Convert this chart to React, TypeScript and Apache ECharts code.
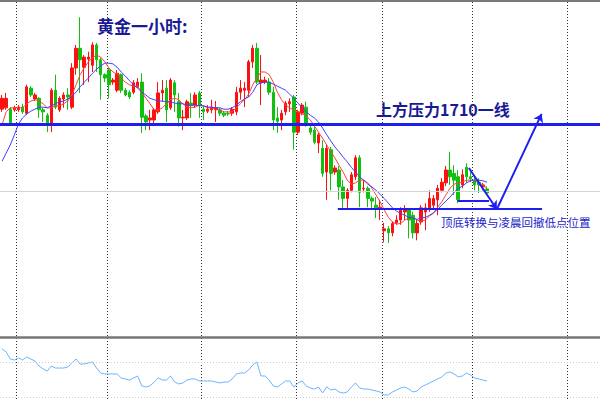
import React, { useEffect, useRef } from 'react';
import * as echarts from 'echarts';

// Hourly gold candles (price levels)
const opens = [1712.2,1712.4,1712.2,1712.1,1712.1,1712.5,1711.6,1715.3,1713.7,1713.8,1712.1,1711.3,1710.1,1715.0,1712.1,1713.7,1714.3,1712.5,1718.3,1721.2,1718.4,1719.6,1718.7,1721.7,1719.5,1717.3,1718.0,1716.2,1715.0,1717.3,1715.0,1714.7,1714.7,1715.5,1716.2,1711.2,1710.6,1710.6,1711.8,1714.6,1715.3,1712.4,1716.1,1713.3,1710.9,1710.9,1713.1,1712.8,1714.6,1712.2,1711.9,1712.1,1712.1,1712.1,1711.6,1711.6,1711.6,1711.8,1714.7,1715.0,1715.0,1719.2,1721.2,1716.1,1716.2,1716.2,1714.7,1710.9,1710.6,1711.8,1713.0,1714.0,1708.8,1711.6,1712.5,1709.4,1709.1,1707.2,1706.4,1702.9,1706.2,1702.9,1703.2,1700.7,1699.0,1700.2,1702.2,1705.0,1700.4,1700.5,1699.0,1698.0,1697.6,1694.2,1694.5,1693.9,1695.4,1695.8,1697.0,1697.4,1696.5,1693.9,1695.5,1697.0,1697.6,1698.0,1698.8,1700.2,1701.3,1703.2,1702.7,1702.2,1701.0,1703.6,1702.2,1701.7,1701.4,1700.7,1700.4];
const closes = [1713.8,1713.8,1710.1,1712.4,1712.5,1711.8,1715.5,1714.3,1714.3,1712.1,1711.8,1710.1,1715.0,1712.5,1713.8,1714.3,1714.0,1718.3,1721.2,1719.5,1719.9,1719.9,1721.7,1719.5,1717.3,1716.8,1715.8,1716.5,1717.5,1715.0,1714.3,1714.0,1716.1,1716.2,1711.0,1710.3,1710.9,1712.1,1714.6,1715.0,1712.1,1716.5,1714.3,1710.9,1711.0,1713.3,1712.7,1714.3,1712.8,1711.8,1712.2,1712.5,1712.4,1711.6,1711.3,1711.5,1712.2,1714.7,1715.3,1715.3,1719.2,1721.2,1716.2,1716.5,1716.5,1714.7,1710.6,1710.4,1711.6,1713.1,1713.3,1708.8,1711.8,1712.8,1710.1,1708.8,1707.3,1708.4,1702.7,1706.4,1702.7,1703.5,1700.7,1699.0,1700.2,1702.5,1705.0,1699.9,1700.5,1699.0,1698.6,1697.6,1697.7,1694.5,1693.9,1695.3,1695.8,1697.3,1697.4,1695.8,1693.9,1695.3,1697.6,1697.6,1699.0,1699.0,1700.5,1701.4,1703.2,1702.2,1701.7,1698.8,1702.5,1702.2,1701.9,1701.0,1701.0,1701.0,1699.8];
const lows = [1711.8,1712.1,1709.9,1711.8,1711.8,1711.5,1711.3,1714.0,1713.4,1710.9,1710.3,1708.8,1708.8,1712.2,1711.8,1712.4,1712.1,1712.2,1717.3,1714.6,1715.8,1716.2,1717.7,1717.7,1713.6,1716.2,1713.8,1715.8,1714.7,1714.6,1714.1,1713.7,1714.4,1715.3,1708.7,1709.1,1709.1,1709.9,1711.5,1713.3,1710.3,1712.1,1711.8,1709.6,1709.1,1710.6,1710.9,1712.4,1710.9,1710.6,1711.6,1711.6,1710.3,1711.2,1711.0,1711.2,1711.2,1711.3,1713.6,1712.5,1714.0,1718.3,1715.9,1712.8,1715.9,1714.3,1709.1,1708.7,1709.1,1711.3,1711.8,1706.2,1708.4,1711.3,1709.6,1708.4,1707.0,1705.7,1702.2,1698.8,1700.2,1702.5,1698.8,1697.6,1697.6,1699.9,1701.7,1697.7,1699.9,1697.7,1697.4,1696.1,1695.8,1692.5,1692.4,1693.4,1695.1,1695.1,1695.8,1693.1,1693.1,1692.8,1695.1,1694.3,1697.0,1697.3,1696.5,1699.9,1700.8,1701.0,1699.5,1698.3,1700.5,1701.3,1701.4,1700.2,1699.8,1700.2,1699.5];
const highs = [1714.3,1714.6,1712.5,1712.7,1712.8,1713.0,1715.8,1715.6,1714.6,1714.0,1712.4,1711.6,1715.3,1717.3,1714.1,1714.7,1715.3,1719.0,1721.7,1725.8,1720.2,1720.7,1722.1,1722.0,1719.8,1717.5,1718.3,1716.8,1718.0,1717.5,1715.3,1715.0,1716.5,1716.8,1717.5,1711.5,1712.1,1712.4,1716.2,1716.5,1716.5,1716.8,1716.5,1714.6,1712.1,1713.6,1714.6,1714.7,1714.9,1712.7,1712.8,1713.6,1713.4,1712.4,1711.9,1711.9,1712.5,1715.5,1716.5,1716.2,1719.5,1721.7,1722.0,1720.2,1717.0,1716.8,1715.5,1712.5,1712.1,1713.4,1713.8,1714.3,1712.1,1713.1,1713.3,1710.0,1709.6,1708.7,1707.6,1706.9,1706.6,1703.9,1703.8,1701.7,1700.5,1702.9,1705.4,1705.4,1701.7,1700.8,1699.3,1699.2,1698.8,1695.4,1694.9,1695.6,1696.5,1697.7,1698.0,1697.6,1697.0,1695.8,1698.0,1698.3,1700.2,1699.5,1701.0,1702.0,1703.8,1705.9,1703.9,1703.2,1703.3,1704.2,1702.9,1702.2,1702.0,1701.3,1700.8];

// Moving averages as drawn on the chart
const maFast = [1709.9,1711.8,1712.4,1712.4,1712.4,1712.4,1713.0,1713.4,1713.6,1713.4,1713.0,1712.4,1712.4,1712.7,1712.7,1713.0,1713.4,1714.3,1715.8,1717.3,1718.3,1719.2,1719.8,1720.2,1719.9,1719.2,1718.3,1717.7,1717.3,1716.8,1716.2,1715.8,1715.6,1715.6,1714.7,1713.8,1713.0,1712.1,1712.1,1712.4,1713.0,1713.6,1713.8,1713.6,1713.0,1712.5,1712.4,1712.5,1712.8,1712.7,1712.4,1712.4,1712.2,1712.1,1711.8,1711.8,1711.8,1712.4,1713.0,1713.6,1714.4,1715.8,1716.8,1717.7,1717.7,1717.3,1716.2,1714.7,1713.6,1712.8,1712.4,1712.1,1711.8,1711.5,1711.2,1710.6,1709.7,1708.8,1707.9,1706.9,1705.9,1705.0,1703.9,1702.9,1701.7,1701.1,1701.3,1701.7,1701.7,1701.3,1700.5,1699.5,1698.5,1697.3,1696.2,1695.5,1695.2,1695.3,1695.8,1696.1,1696.2,1695.8,1695.6,1695.8,1696.4,1696.8,1697.7,1698.5,1699.5,1700.5,1701.1,1701.3,1701.4,1701.7,1701.7,1701.6,1701.3,1701.0,1700.5];
const maSlow = [1704.5,1705.7,1706.9,1708.4,1710.0,1710.9,1711.5,1711.9,1712.2,1712.5,1712.5,1712.4,1712.7,1713.0,1713.3,1713.4,1713.7,1714.1,1714.7,1715.5,1716.2,1716.8,1717.5,1718.1,1718.6,1719.0,1719.0,1718.9,1718.4,1717.7,1717.1,1716.4,1715.8,1715.3,1714.7,1714.3,1713.8,1713.6,1713.4,1713.4,1713.3,1713.3,1713.1,1713.0,1713.0,1712.8,1712.8,1712.8,1712.7,1712.7,1712.5,1712.5,1712.4,1712.4,1712.2,1712.2,1712.4,1712.8,1713.3,1713.7,1714.0,1714.7,1715.8,1716.1,1716.2,1716.2,1715.9,1715.6,1715.3,1715.0,1714.4,1713.8,1713.1,1712.4,1711.8,1711.3,1710.9,1710.3,1709.4,1708.4,1707.5,1706.6,1705.9,1705.1,1704.4,1703.6,1702.9,1702.2,1701.7,1701.1,1700.7,1700.2,1699.6,1699.0,1698.3,1697.6,1697.1,1696.8,1696.5,1696.2,1696.1,1695.9,1696.1,1696.2,1696.5,1696.9,1697.4,1698.0,1698.6,1699.2,1699.9,1700.5,1700.8,1701.3,1701.6,1701.7,1701.7,1701.6,1701.4];

// Lower oscillator
const oscillator = [84.9,81.4,73.4,72.3,74.6,72.3,75.7,73.4,71.1,65.4,62.0,59.7,65.4,63.1,63.1,63.1,64.3,68.9,73.4,67.7,67.7,68.9,70.0,63.1,57.4,56.3,56.3,56.3,56.3,51.7,50.6,49.4,51.7,54.0,42.6,41.4,42.6,47.1,51.7,49.4,49.4,54.0,47.1,44.9,46.0,49.4,50.6,50.6,48.3,48.3,48.3,48.3,47.1,46.0,47.1,47.1,50.6,56.3,57.4,57.4,60.9,66.6,70.0,54.0,54.0,49.4,42.6,41.4,44.9,48.3,48.3,41.4,46.0,48.3,42.6,40.3,39.1,41.4,34.6,41.4,38.0,39.1,35.7,34.6,35.7,41.4,46.0,40.3,39.1,39.1,38.0,36.9,35.7,32.3,32.3,35.7,38.0,40.3,41.4,39.1,35.7,36.9,41.4,43.7,46.0,48.3,50.6,52.9,57.4,58.6,56.3,52.9,54.0,57.4,55.1,51.7,50.6,49.4,48.3];
const oscLevels = [70, 30];

// Price levels
const resistance = 1710;
const gridLevel = 1700;

// Session separators (category boundary indices)
const sessionBreaks = [4, 26, 49, 72, 93, 115, 138];
const slotCount = 146;
const categories = Array.from({ length: slotCount }, (_, i) => String(i + 1));

// Hand-drawn annotation lines, in [slot, price]
const supportLine = [[82.2, 1697.4], [131.9, 1697.4]];
const shortLine = [[111.3, 1698.6], [119.0, 1698.6]];
const arrowDown = [[114.1, 1703.5], [120.9, 1697.4]];
const arrowUp = [[120.9, 1697.4], [131.8, 1711.5]];

const candleData = opens.map((o, i) => [o, closes[i], lows[i], highs[i]]);

const BLUE = '#1e1ef0';
const RED = '#ff1010';
const GREEN = '#10c010';

export default function App() {
  const ref = useRef<HTMLDivElement>(null);
  useEffect(() => {
    const chart = echarts.init(ref.current!, null, { renderer: 'svg' });
    const splitLine = {
      show: true,
      interval: (index: number) => sessionBreaks.includes(index),
      lineStyle: { color: '#333', type: [1, 2], width: 1 },
    };
    chart.setOption({
      animation: false,
      backgroundColor: '#ffffff',
      grid: [
        { left: 0, right: 0, top: 2, height: 335 },
        { left: 0, right: 0, top: 338, height: 61 },
      ],
      xAxis: [
        {
          type: 'category', gridIndex: 0, data: categories, boundaryGap: true,
          axisLabel: { show: false }, axisTick: { show: false },
          axisLine: { show: true, onZero: false, lineStyle: { color: '#777', width: 2.5 } },
          splitLine,
        },
        {
          type: 'category', gridIndex: 1, data: categories, boundaryGap: true,
          axisLabel: { show: false }, axisTick: { show: false },
          axisLine: { show: false },
          splitLine,
        },
        {
          type: 'value', gridIndex: 0, min: 0, max: slotCount, show: false, position: 'top',
          splitLine: { show: false },
        },
      ],
      yAxis: [
        {
          type: 'value', gridIndex: 0, min: 1678.5, max: 1728.05, scale: true,
          axisLabel: { show: false }, axisTick: { show: false }, axisLine: { show: false },
          splitLine: { show: false },
        },
        {
          type: 'value', gridIndex: 1, min: 27.7, max: 97.4, scale: true,
          axisLabel: { show: false }, axisTick: { show: false }, axisLine: { show: false },
          splitLine: { show: false },
        },
      ],
      series: [
        {
          type: 'candlestick', xAxisIndex: 0, yAxisIndex: 0, data: candleData,
          barWidth: 3,
          itemStyle: { color: RED, color0: GREEN, borderColor: RED, borderColor0: GREEN, borderWidth: 1 },
          markLine: {
            silent: true, symbol: ['none', 'none'], label: { show: false },
            data: [
              { yAxis: gridLevel, lineStyle: { color: '#d4d4d4', width: 1, type: 'solid' } },
              { yAxis: resistance, lineStyle: { color: BLUE, width: 3, type: 'solid' } },
            ],
          },
        },
        {
          type: 'line', xAxisIndex: 0, yAxisIndex: 0, data: maFast, showSymbol: false,
          lineStyle: { color: '#ff4040', width: 1 }, z: 3,
        },
        {
          type: 'line', xAxisIndex: 0, yAxisIndex: 0, data: maSlow, showSymbol: false,
          lineStyle: { color: '#4040ff', width: 1 }, z: 3,
        },
        {
          type: 'line', xAxisIndex: 1, yAxisIndex: 1, data: oscillator, showSymbol: false,
          lineStyle: { color: '#6cb4ff', width: 1 },
          markLine: {
            silent: true, symbol: ['none', 'none'], label: { show: false },
            data: oscLevels.map((v) => ({ yAxis: v, lineStyle: { color: '#cccccc', width: 1, type: [1, 2] } })),
          },
        },
        {
          type: 'lines', coordinateSystem: 'cartesian2d', xAxisIndex: 2, yAxisIndex: 0,
          symbol: ['none', 'none'], z: 6,
          lineStyle: { color: BLUE, width: 2, opacity: 1 },
          data: [{ coords: supportLine }, { coords: shortLine }],
        },
        {
          type: 'lines', coordinateSystem: 'cartesian2d', xAxisIndex: 2, yAxisIndex: 0,
          symbol: ['none', 'arrow'], symbolSize: 8, z: 6,
          lineStyle: { color: BLUE, width: 2, opacity: 1 },
          data: [{ coords: arrowDown }, { coords: arrowUp }],
        },
      ],
      graphic: [
        { type: 'rect', shape: { x: 0, y: 0, width: 600, height: 2 }, style: { fill: '#7a7a7a' }, z: 10 },
        {
          type: 'text', z: 10,
          style: {
            text: '黄金一小时:', x: 97, y: 25, font: 'bold 17px "Noto Sans CJK SC"',
            fill: '#1a1a96', verticalAlign: 'middle', textVerticalAlign: 'middle',
          },
        },
        {
          type: 'text', z: 10,
          style: {
            text: '上方压力1710一线', x: 376, y: 109, font: 'bold 16px "Noto Sans CJK SC"',
            fill: '#1a1a96', verticalAlign: 'middle', textVerticalAlign: 'middle',
          },
        },
        {
          type: 'text', z: 10,
          style: {
            text: '顶底转换与凌晨回撤低点位置', x: 441, y: 222, font: '11.5px "Noto Sans CJK SC"',
            fill: '#2424c8', verticalAlign: 'middle', textVerticalAlign: 'middle',
          },
        },
      ],
    });
    return () => chart.dispose();
  }, []);
  return (
    <div
      ref={ref}
      style={{ position: 'fixed', left: 0, top: 0, width: 600, height: 399, background: '#fff' }}
    />
  );
}
